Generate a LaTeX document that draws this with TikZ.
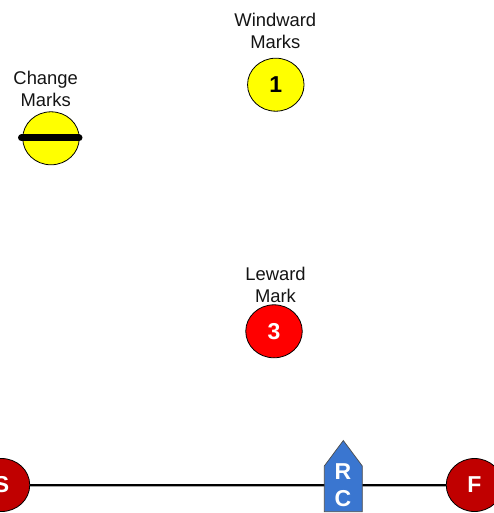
\documentclass[tikz,border=0pt]{standalone}
\usepackage{fontspec}
\setmainfont{Liberation Sans}
\usetikzlibrary{shapes.geometric}
\definecolor{markyellow}{RGB}{255,255,0}
\definecolor{markred}{RGB}{255,0,0}
\definecolor{flagred}{RGB}{192,0,0}
\definecolor{boatblue}{RGB}{58,118,208}
\tikzset{
  x=1pt,y=-1pt,
  buoy/.style={ellipse,draw=black,line width=0.8pt,minimum width=56.5pt,minimum height=53pt,inner sep=0pt,
    font=\fontsize{23}{23}\selectfont\bfseries},
  caption/.style={align=center,inner sep=0pt,font=\fontsize{18.4}{22}\selectfont,text=black!92},
  course/.style={draw=black,line width=1.8pt},
  courseshade/.style={draw=black!35,line width=1pt},
  boat/.style={fill=boatblue,draw=black!70,line width=0.7pt,line join=miter}
}
\begin{document}
\begin{tikzpicture}
\useasboundingbox (0,0) rectangle (494,513);
\clip (0,0) rectangle (494,513);
\node[caption] (windcap) at (275.3,31) {Windward\\Marks};
\node[caption] (changecap) at (45.7,89) {Change\\Marks};
\node[caption] (leecap) at (275.5,285) {Leward\\Mark};
\node[buoy,fill=markyellow,text=black] (wind) at (275.8,84.7) {1};
\node[buoy,fill=markyellow] (change) at (51,138.3) {};
\coordinate (barl) at (21.5,138);
\coordinate (barr) at (79,138);
\draw[line width=7pt,line cap=round] (barl) -- (barr);
\node[buoy,fill=markred,text=white] (lee) at (274,331.3) {3};
\node[buoy,fill=flagred,text=white] (start) at (1.5,485) {S};
\node[buoy,fill=flagred,text=white] (finish) at (474.5,485) {F};
\draw[courseshade] ([yshift=-1.4pt]start.east) -- ([yshift=-1.4pt]finish.west);
\draw[course] (start.east) -- (finish.west);
\draw[boat] (343.3,440.5) -- (362.3,466) -- (362.3,511.7) -- (324.3,511.7) -- (324.3,466) -- cycle;
\node[align=center,inner sep=0pt,text=white,font=\fontsize{23}{27}\selectfont\bfseries] (rc) at (343,485) {R\\C};
\end{tikzpicture}
\end{document}
